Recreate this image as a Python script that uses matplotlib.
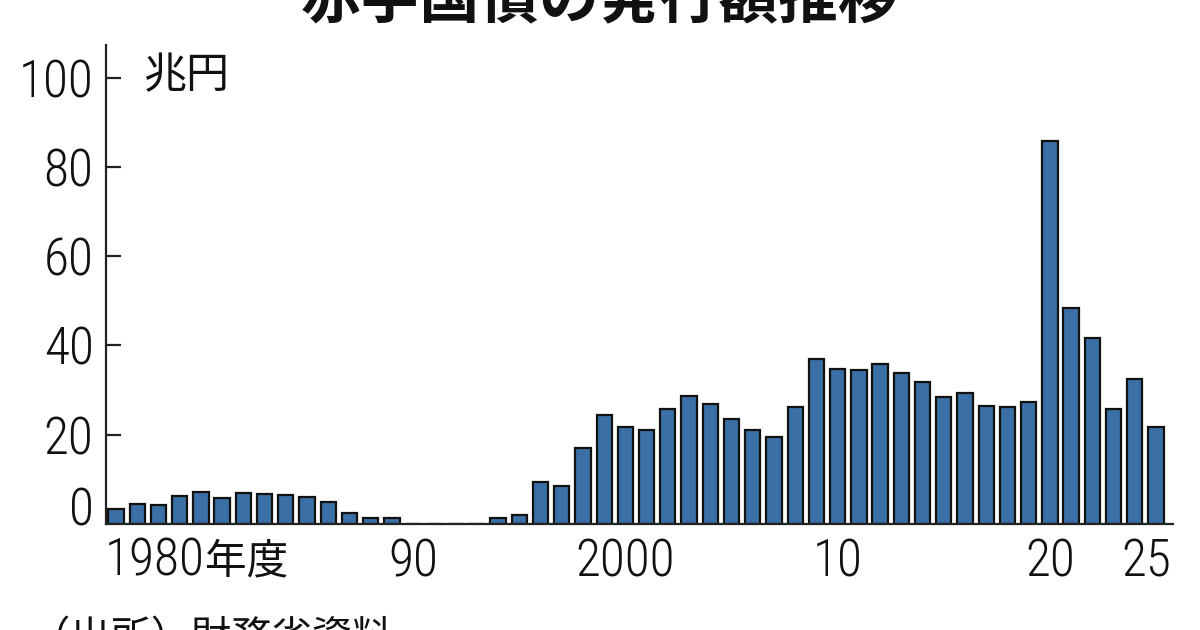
import matplotlib
matplotlib.use("Agg")
import matplotlib.pyplot as plt
from matplotlib.transforms import blended_transform_factory, ScaledTranslation

# ---- data (trillion yen, fiscal years) ----
years = list(range(1976, 2026))
values = [3.4, 4.5, 4.3, 6.3, 7.2, 5.8, 7.0, 6.7, 6.4, 6.1,
          5.0, 2.5, 1.3, 1.3, 0.0, 0.0, 0.0, 0.0, 1.4, 2.1,
          9.3, 8.6, 17.0, 24.4, 21.8, 21.0, 25.8, 28.7, 26.9, 23.5,
          21.1, 19.4, 26.2, 36.9, 34.7, 34.4, 35.9, 33.8, 31.9, 28.4,
          29.3, 26.4, 26.3, 27.4, 85.8, 48.4, 41.7, 25.7, 32.5, 21.7]
xtick_pos = [1990, 2000, 2010, 2020, 2025]
xtick_labels = ["90", "2000", "10", "20", "25"]
ytick_pos = [0, 20, 40, 60, 80, 100]
title = "赤字国債の発行額推移"
unit = "兆円"
first_label = "1980"
first_suffix = "年度"
first_pos = 1980
source = "（出所）財務省資料"

NUM = ["Roboto Condensed", "Noto Sans CJK JP", "DejaVu Sans"]
CJK = ["Noto Sans CJK JP", "DejaVu Sans"]
NUMKW = dict(family=NUM, fontsize=37, fontstretch="condensed",
             fontweight="light", color="#111111")

fig = plt.figure(figsize=(12, 6.3), dpi=100)
W, H = 1200, 630
ax = fig.add_axes([106 / W, 1 - 524 / H, (1173 - 106) / W, (524 - 45) / H])

ax.bar(years, values, width=0.72, color="#3a70a6", edgecolor="#111111",
       linewidth=1.6, zorder=2)

ax.set_xlim(1975.53, 2025.8)
ax.set_ylim(0, 107.3)

for s in ["top", "right"]:
    ax.spines[s].set_visible(False)
for s in ["left", "bottom"]:
    ax.spines[s].set_linewidth(1.6)
    ax.spines[s].set_color("#222222")

ax.set_yticks(ytick_pos)
ax.set_yticklabels([str(v) for v in ytick_pos], **NUMKW)
ax.tick_params(axis="y", direction="in", length=11, width=1.6, pad=9,
               color="#222222")
# the "0" label sits just above the baseline, without a tick mark
ylabels = ax.get_yticklabels()
ylabels[0].set_transform(ylabels[0].get_transform()
                         + ScaledTranslation(0, 18 / 100, fig.dpi_scale_trans))
ax.yaxis.get_major_ticks()[0].tick1line.set_visible(False)

ax.set_xticks(xtick_pos)
ax.set_xticklabels(xtick_labels, **NUMKW)
ax.tick_params(axis="x", length=0, pad=10)
xlabels = ax.get_xticklabels()
xlabels[-1].set_transform(xlabels[-1].get_transform()
                          + ScaledTranslation(-10 / 100, 0, fig.dpi_scale_trans))

trans = blended_transform_factory(ax.transData, ax.transAxes)
ax.annotate(first_label, xy=(first_pos, 0), xycoords=trans,
            xytext=(4, -38), textcoords="offset pixels",
            ha="right", va="center", **NUMKW)
ax.annotate(first_suffix, xy=(first_pos, 0), xycoords=trans,
            xytext=(4, -38), textcoords="offset pixels",
            ha="left", va="center", family=CJK, fontsize=30, color="#111111")

fig.text(143 / W, 1 - 76 / H, unit, family=CJK, fontsize=31,
         ha="left", va="center", color="#111111")

fig.text(0.5, 1 - 17 / H, title, family=CJK, fontsize=43, fontweight="bold",
         ha="center", va="baseline", color="#111111")

fig.text(30 / W, 1 - 618 / H, source, family=CJK, fontsize=29,
         ha="left", va="top", color="#111111")

fig.savefig("out.png", dpi=100, facecolor="white")
